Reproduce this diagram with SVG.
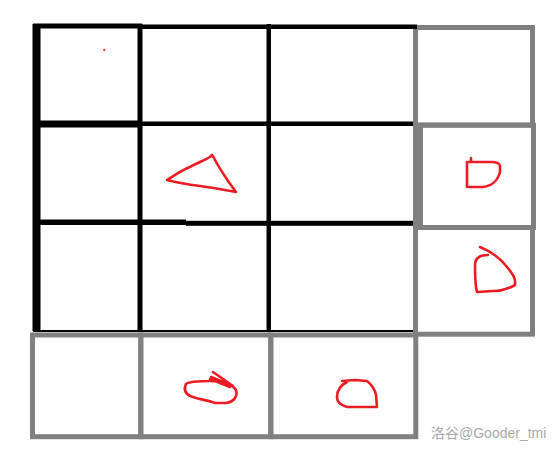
<svg xmlns="http://www.w3.org/2000/svg" width="560" height="453" viewBox="0 0 560 453">
<style>
.blk{fill:#000}
.gray{fill:none;stroke:#808080;stroke-width:5}
.red{fill:none;stroke:#ed1c24;stroke-width:2.6;stroke-linecap:round;stroke-linejoin:round}
.wm{font-family:"Liberation Sans","Noto Sans CJK SC",sans-serif;font-size:14px;fill:#a8a8a8}
</style>
<rect width="560" height="453" fill="#fff"/>
<g id="gray-cells">
<rect id="cell-r1c4" class="gray" x="415.5" y="27.5" width="117" height="97.5"/>
<rect id="cell-r2c4" class="gray" x="415.5" y="125.2" width="118" height="102.3"/>
<rect id="cell-r2c4-left" x="413" y="125" width="10" height="103" fill="#808080"/>
<rect id="cell-r3c4" class="gray" x="415.5" y="227.5" width="117" height="106.7"/>
<rect id="cell-r4c1" class="gray" x="32.5" y="335" width="108.3" height="101.7"/>
<rect id="cell-r4c2" class="gray" x="140.8" y="335" width="130" height="101.7"/>
<rect id="cell-r4c3" class="gray" x="270.8" y="335" width="145" height="101.7"/>
</g>
<g id="black-grid">
<rect class="blk" x="33" y="23.5" width="109" height="5"/>
<rect class="blk" x="142" y="24.5" width="275" height="4.5"/>
<rect class="blk" x="32.5" y="24" width="8" height="307"/>
<rect class="blk" x="137.5" y="24" width="5" height="307"/>
<rect class="blk" x="266.5" y="24" width="4.5" height="307"/>
<rect class="blk" x="33" y="120.5" width="109" height="7"/>
<rect class="blk" x="142" y="121.5" width="271" height="4.5"/>
<rect class="blk" x="33" y="219.5" width="153" height="5.5"/>
<rect class="blk" x="186" y="220.8" width="227" height="5"/>
<rect class="blk" x="33" y="330" width="380" height="2"/>
</g>
<g id="marks">
<path id="dot" d="M103,50 H105.5 M104.3,48.8 V51.2" stroke="#ed1c24" stroke-width="1"/>
<path id="triangle" class="red" d="M167,180 C175,175 182,170 190,167 C197,163 205,160 210,157 L212,155 L214,158 C218,166 222,172 228,181 L236,192 C225,190 215,188 200,186 C185,184 175,182 167,180 Z"/>
<path id="shape-r2c4" class="red" d="M471,158 L471,162 M467,162 L467,187 L483,187 C492,186 498,180 500,172 L500,166 C499,162 495,162 492,162 L467,162"/>
<path id="shape-r3c4" class="red" d="M480,247 C490,251 500,258 507,267 C512,273 516,278 515,285 C508,289 500,291 493,291 L477,292 C475,285 475,275 475,265 C475,258 480,255 488,255"/>
<path id="shape-r4c2" class="red" d="M186,384 C190,381 200,381 210,381 C222,381 232,384 236,390 C238,396 234,402 226,403 L215,403 C210,401 204,400 196,398 C188,396 184,392 185,387 Z M213,372 L233,386 M211,377 L231,385 M210,379 L230,387"/>
<path id="shape-r4c3" class="red" d="M342,381 L355,380 L367,381 C372,385 375,390 376,395 L377,407 L360,407 L347,407 C340,405 337,401 337,397 C337,390 341,385 347,382"/>
</g>
<text class="wm" x="431" y="438">洛谷@Gooder_tmi</text>
</svg>
